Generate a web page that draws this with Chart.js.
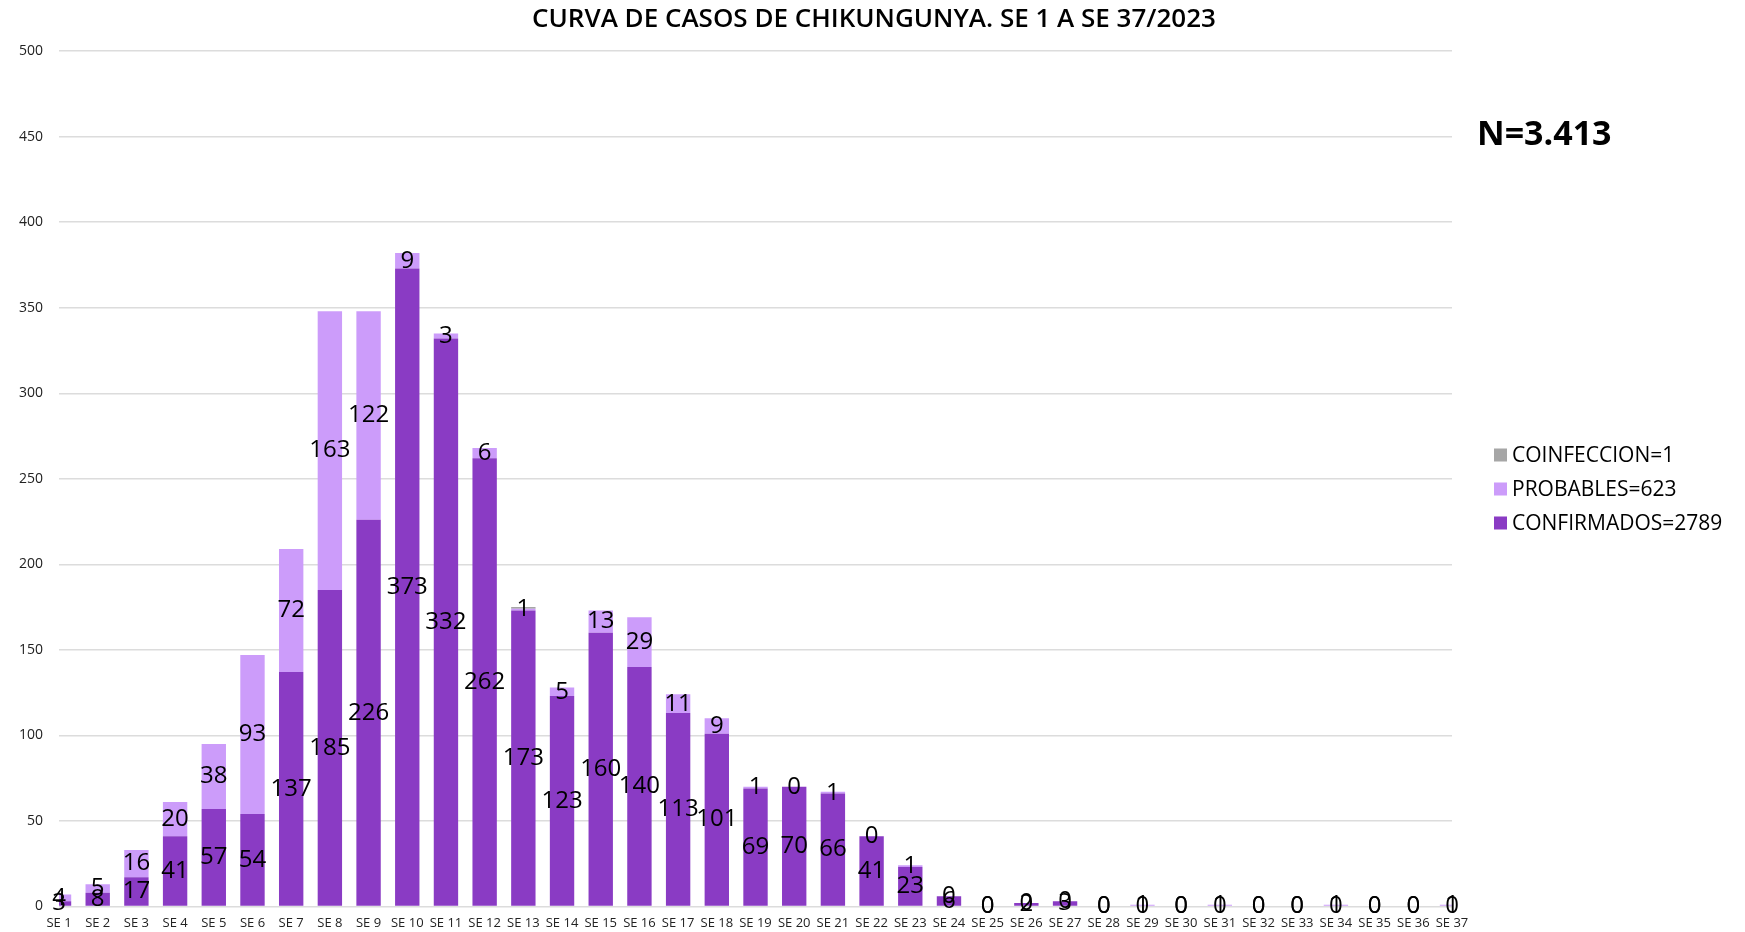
<!DOCTYPE html>
<html>
<head>
<meta charset="utf-8">
<title>Curva de casos de chikungunya</title>
<script src="https://cdn.jsdelivr.net/npm/chart.js@4/dist/chart.umd.min.js"></script>
<style>
  html, body { margin: 0; padding: 0; background: #fff; }
  #wrap { position: relative; width: 1745px; height: 932px; }
</style>
</head>
<body>
<div id="wrap"><canvas id="grafico"></canvas></div>
<script>
// Semanas epidemiológicas SE 1 a SE 37
const semanas = [];
for (let i = 1; i <= 37; i++) semanas.push('SE ' + i);

const confirmados = [3, 8, 17, 41, 57, 54, 137, 185, 226, 373, 332, 262, 173, 123, 160, 140, 113, 101, 69, 70, 66, 41, 23, 6, 0, 2, 3, 0, 0, 0, 0, 0, 0, 0, 0, 0, 0];
const probables   = [4, 5, 16, 20, 38, 93, 72, 163, 122, 9, 3, 6, 1, 5, 13, 29, 11, 9, 1, 0, 1, 0, 1, 0, 0, 0, 0, 0, 1, 0, 1, 0, 0, 1, 0, 0, 1];
const coinfeccion = [0, 0, 0, 0, 0, 0, 0, 0, 0, 0, 0, 0, 1, 0, 0, 0, 0, 0, 0, 0, 0, 0, 0, 0, 0, 0, 0, 0, 0, 0, 0, 0, 0, 0, 0, 0, 0];

const totales = { coinfeccion: 1, probables: 623, confirmados: 2789 };
const totalCasos = 'N=3.413';

const yTicks = { min: 0, max: 500, step: 50 };

const police = '"Open Sans", "Noto Sans", sans-serif';

// étiquettes des valeurs au centre de chaque segment
const etiquettesPlugin = {
    id: 'etiquettes',
    afterDatasetsDraw(chart) {
        const ctx = chart.ctx;
        ctx.save();
        ctx.font = '24px ' + police;
        ctx.fillStyle = '#000';
        ctx.textAlign = 'center';
        ctx.textBaseline = 'middle';
        [0, 1].forEach(function(di) {
            const meta = chart.getDatasetMeta(di);
            const valeurs = chart.data.datasets[di].data;
            meta.data.forEach(function(bar, i) {
                const y = (bar.y + bar.base) / 2;
                ctx.fillText(String(valeurs[i]), bar.x, y);
            });
        });
        ctx.restore();
    }
};

// boîte à droite (légende + total N), réservée dans la mise en page
const legendePlugin = {
    id: 'legende',
    beforeInit(chart) {
        const boite = {
            position: 'right',
            weight: 100,
            fullSize: false,
            options: {},
            isHorizontal() { return false; },
            update(maxWidth, maxHeight) {
                this.width = 293;
                this.height = maxHeight;
            },
            draw() {
                const ctx = chart.ctx;
                const x0 = this.left + 42;
                const ordre = [2, 1, 0];
                ctx.save();
                ctx.font = '21px ' + police;
                ctx.textBaseline = 'middle';
                ctx.textAlign = 'left';
                ordre.forEach(function(di, k) {
                    const ds = chart.data.datasets[di];
                    const y = 455 + k * 34;
                    ctx.fillStyle = ds.backgroundColor;
                    ctx.fillRect(x0, y - 6.5, 13, 13);
                    ctx.fillStyle = '#000';
                    ctx.fillText(ds.label, x0 + 18, y + 1);
                });
                ctx.font = 'bold 34px ' + police;
                ctx.fillText(totalCasos, this.left + 25, 135);
                ctx.restore();
            }
        };
        Chart.layouts.addBox(chart, boite);
    }
};

const ctx = document.getElementById('grafico');
new Chart(ctx, {
    type: 'bar',
    data: {
        labels: semanas,
        datasets: [
            {
                label: 'CONFIRMADOS=' + totales.confirmados,
                data: confirmados,
                backgroundColor: '#8a3bc4'
            },
            {
                label: 'PROBABLES=' + totales.probables,
                data: probables,
                backgroundColor: '#cc9cfa'
            },
            {
                label: 'COINFECCION=' + totales.coinfeccion,
                data: coinfeccion,
                backgroundColor: '#a6a6a6'
            }
        ]
    },
    options: {
        responsive: true,
        maintainAspectRatio: false,
        animation: false,
        layout: {
            padding: { left: 3, right: 0, top: 0, bottom: -8 }
        },
        datasets: {
            bar: { barPercentage: 0.63, categoryPercentage: 1 }
        },
        scales: {
            x: {
                stacked: true,
                offset: false,
                grid: { display: false, offset: false, drawTicks: false },
                border: { display: false },
                ticks: {
                    autoSkip: false,
                    maxRotation: 0,
                    minRotation: 0,
                    padding: 9,
                    color: '#222',
                    font: { family: police, size: 13 }
                }
            },
            y: {
                stacked: true,
                min: yTicks.min,
                max: yTicks.max,
                border: { display: false },
                grid: { color: '#dcdcdc', lineWidth: 1.5, drawTicks: false },
                ticks: {
                    stepSize: yTicks.step,
                    padding: 16,
                    color: '#222',
                    font: { family: police, size: 14 }
                }
            }
        },
        plugins: {
            legend: { display: false },
            tooltip: { enabled: false },
            title: {
                display: true,
                text: 'CURVA DE CASOS DE CHIKUNGUNYA. SE 1 A SE 37/2023',
                color: '#000',
                font: { family: police, size: 26, weight: '600' },
                padding: { top: 4, bottom: 16 }
            }
        }
    },
    plugins: [etiquettesPlugin, legendePlugin]
});
</script>
</body>
</html>
